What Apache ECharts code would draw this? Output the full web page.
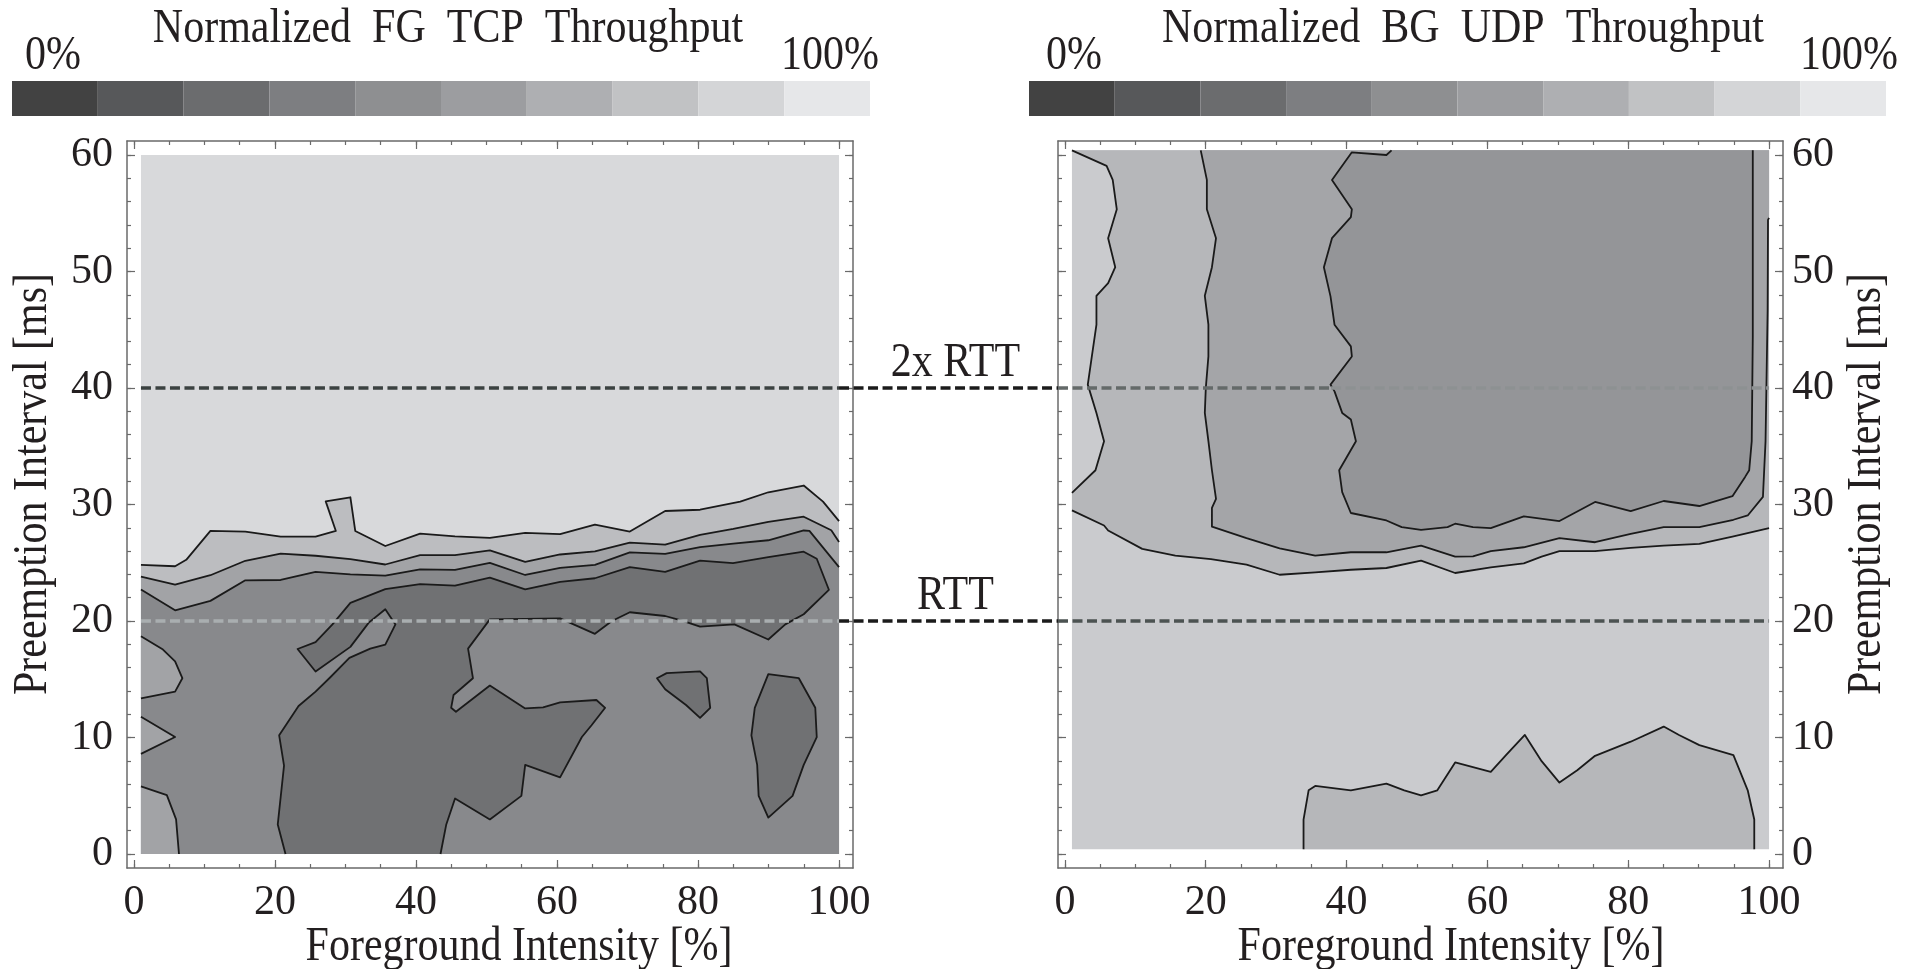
<!DOCTYPE html>
<html>
<head>
<meta charset="utf-8">
<title>Normalized throughput contours</title>
<script src="https://cdn.jsdelivr.net/npm/echarts@6/dist/echarts.min.js"></script>
<style>
html, body { margin: 0; padding: 0; background: #fff; }
#chart { width: 1914px; height: 969px; }
</style>
</head>
<body>
<div id="chart"></div>
<script>
// values: x = foreground intensity [%], y = preemption interval [ms]
const xTicks = [0, 20, 40, 60, 80, 100];
const xMinorTicks = [0, 5, 10, 15, 20, 25, 30, 35, 40, 45, 50, 55, 60, 65, 70, 75, 80, 85, 90, 95, 100];
const yTicks = [0, 10, 20, 30, 40, 50, 60];
const yMinorTicks = [0, 2, 4, 6, 8, 10, 12, 14, 16, 18, 20, 22, 24, 26, 28, 30, 32, 34, 36, 38, 40, 42, 44, 46, 48, 50, 52, 54, 56, 58, 60];
const xAxisRange = [-0.98, 101.98];
const yAxisRange = [-1.2, 61.2];
const rttValues = [40, 20];
const rttNames = ['2x RTT', 'RTT'];
const colorbarEnds = ['0%', '100%'];
const colorbarSteps = [0, 1, 2, 3, 4, 5, 6, 7, 8, 9];

// ---- FG TCP throughput (left) ----
const tcpExtent = { x: [1, 100], y: [0, 60] };
const tcpLine1 = [[1, 24.82], [5.84, 24.70], [7.42, 25.25], [10.85, 27.73], [15.80, 27.68], [20.81, 27.24], [25.76, 27.24], [28.64, 27.73], [27.20, 30.27], [30.70, 30.62], [31.39, 27.73], [35.65, 26.44], [40.59, 27.50], [45.54, 27.27], [50.48, 27.13], [55.49, 27.56], [60.44, 27.45], [65.38, 28.28], [70.33, 27.68], [75.34, 29.44], [80.29, 29.55], [85.99, 30.25], [89.97, 31.05], [94.99, 31.63], [97.73, 30.25], [100, 28.57]];
const tcpLine2 = [[1, 23.81], [5.84, 23.12], [10.85, 23.93], [15.80, 25.17], [20.81, 25.78], [25.76, 25.60], [30.70, 25.31], [35.65, 24.85], [40.59, 25.66], [45.54, 25.66], [50.48, 26.06], [55.49, 25.08], [60.44, 25.71], [65.38, 25.98], [70.33, 26.73], [75.34, 26.55], [80.29, 27.39], [85.0, 27.9], [89.97, 28.51], [94.99, 28.95], [98.9, 27.79], [100, 26.78]];
const tcpLine3 = [[1, 22.71], [5.84, 20.92], [10.85, 21.73], [15.80, 23.49], [20.81, 23.52], [25.76, 24.21], [30.70, 24.01], [35.65, 23.90], [40.59, 24.44], [45.54, 24.39], [50.48, 24.99], [55.49, 23.95], [60.44, 24.56], [65.38, 24.82], [70.33, 25.89], [75.34, 25.77], [80.29, 26.35], [85.0, 26.64], [89.97, 26.93], [94.99, 27.77], [95.8, 27.74], [100, 24.62]];
const tcpLow = [[30.70, 21.56], [35.65, 22.74], [40.59, 23.17], [45.54, 23.03], [50.48, 23.72], [55.49, 22.71], [60.44, 23.35], [65.38, 23.67], [70.33, 24.62], [75.34, 24.21], [80.29, 25.19], [84.96, 24.96], [89.97, 25.48], [94.99, 25.95], [96.84, 25.34], [98.56, 22.68], [94.99, 20.58], [92.38, 19.71], [89.97, 18.41], [85.16, 19.71], [80.29, 19.51], [77.61, 20.06], [75.34, 20.43], [70.33, 20.75], [67.79, 20.00], [65.38, 18.90], [60.44, 20.23], [50.48, 20.14], [47.39, 17.63], [48.08, 15.09], [45.33, 13.65], [44.99, 12.55], [45.67, 12.21], [50.48, 14.46], [55.49, 12.50], [58.03, 12.58], [60.44, 13.02], [65.59, 13.22], [66.83, 12.55], [64.90, 11.05], [63.53, 10.04], [60.44, 6.58], [55.49, 7.65], [54.95, 4.99], [50.48, 2.97], [45.54, 4.76], [44.30, 2.54], [43.48, 0], [21.50, 0], [20.40, 2.54], [21.29, 7.59], [20.60, 10.19], [23.35, 12.70], [25.76, 13.94], [27.82, 15.15], [30.56, 16.83], [33.52, 17.63], [35.65, 17.98], [37.09, 19.71], [35.65, 21.01], [33.31, 19.86], [30.70, 17.78], [25.76, 15.67], [23.21, 17.60], [25.76, 18.18], [28.16, 19.71]];
const tcpIslandA = [[74.18, 15.09], [75.55, 15.53], [80.29, 15.67], [81.25, 15.09], [81.73, 12.55], [80.29, 11.69], [78.30, 12.79], [75.34, 14.14]];
const tcpIslandB = [[89.97, 15.44], [94.30, 15.09], [96.63, 12.55], [96.84, 10.04], [94.99, 7.65], [93.41, 4.99], [89.97, 3.12], [88.60, 4.99], [88.39, 7.65], [87.57, 10.19], [88.05, 12.55]];
const tcpEdgeA = [[1, 18.70], [4.12, 17.55], [5.84, 16.54], [6.87, 15.09], [5.84, 13.94], [1, 13.36]];
const tcpEdgeB = [[1, 11.78], [5.84, 10.04], [1, 8.60]];
const tcpEdgeC = [[1, 5.80], [4.67, 5.05], [5.98, 2.97], [6.39, 0], [1, 0]];

// ---- BG UDP throughput (right) ----
const udpExtent = { x: [1, 100], y: [0.4, 60.4] };
const udpOuterLeft = [[1, 60.4], [5.92, 59.06], [6.79, 57.86], [7.37, 55.34], [6.14, 52.86], [7.15, 50.37], [6.14, 49.0], [4.48, 47.91], [4.48, 45.43], [3.76, 42.43], [3.25, 40.29], [4.48, 37.86], [5.56, 35.43], [4.34, 32.94], [1, 31.0]];
const udpOuterLow = [[1, 29.5], [5.56, 28.20], [6.14, 27.77], [10.98, 26.19], [15.68, 25.61], [20.74, 25.32], [25.79, 24.83], [30.49, 23.97], [35.55, 24.17], [40.61, 24.40], [45.66, 24.55], [50.58, 25.18], [55.42, 24.12], [60.48, 24.60], [65.17, 24.95], [67.70, 25.53], [70.23, 25.99], [75.29, 25.99], [80.35, 26.27], [85.04, 26.47], [90.10, 26.62], [94.80, 27.25], [100, 27.97]];
const udpMidLeft = [[19.29, 60.4], [20.16, 57.86], [20.16, 55.34], [21.46, 52.86], [20.88, 50.37], [19.87, 47.91], [20.38, 45.43], [20.38, 42.71], [20.01, 40.0], [19.87, 37.86], [20.38, 35.43], [20.88, 32.94], [21.46, 30.49], [20.88, 29.71], [20.88, 28.1]];
const udpMidLow = [[25.79, 27.11], [30.49, 26.24], [35.55, 25.61], [40.61, 25.90], [45.66, 25.90], [50.58, 26.47], [55.42, 25.53], [57.95, 25.55], [60.48, 25.99], [65.17, 26.33], [70.23, 27.11], [75.29, 26.76], [80.35, 27.48], [85.04, 28.06], [90.10, 28.06], [94.94, 28.69], [96.97, 29.06], [99.13, 30.65]];
const udpMidRight = [[99.5, 35.43], [99.8, 46.7], [99.85, 54.43], [100, 54.6]];
const udpInner = [[46.39, 60.4], [45.66, 60.0], [40.75, 60.23], [37.93, 57.86], [40.75, 55.34], [40.61, 54.66], [37.93, 52.86], [36.78, 50.37], [37.72, 47.86], [38.29, 45.43], [40.61, 43.57], [40.75, 42.71], [37.72, 40.29], [38.29, 39.71], [39.38, 37.86], [40.61, 37.29], [41.33, 35.43], [38.95, 32.94], [39.38, 31.06], [40.61, 29.27], [45.66, 28.63], [47.83, 28.06], [50.58, 27.83], [54.34, 28.06], [55.42, 28.35], [57.95, 28.06], [60.48, 27.97], [65.17, 28.98], [70.23, 28.58], [75.29, 30.22], [80.35, 29.44], [85.04, 30.30], [90.10, 29.87], [94.80, 30.71], [96.60, 32.37], [97.18, 32.94], [97.54, 35.43], [97.69, 44.43], [97.69, 60.4]];
const udpBump = [[33.89, 0.4], [33.89, 2.96], [34.61, 5.47], [35.55, 5.84], [40.61, 5.47], [45.66, 6.04], [48.19, 5.47], [50.58, 5.04], [52.89, 5.47], [55.42, 7.86], [60.48, 7.05], [62.64, 8.49], [65.32, 10.22], [67.70, 7.97], [70.23, 6.13], [72.76, 7.19], [75.29, 8.43], [80.35, 9.64], [85.04, 10.94], [87.21, 10.22], [90.10, 9.35], [94.94, 8.49], [96.97, 5.47], [97.90, 2.96], [97.90, 0.4]];

const SERIF = 'Liberation Serif';
const TEXT = '#231f20';
const FRAME = '#6a6a6a';
const LINE = '#1a1a1a';
const barColors = ['#424242', '#57585a', '#6b6c6e', '#7d7e81', '#8e8f91', '#9c9da0', '#aeafb2', '#c1c2c4', '#d4d5d7', '#e6e7e9'];

function box(ext) {
  return [[ext.x[0], ext.y[0]], [ext.x[1], ext.y[0]], [ext.x[1], ext.y[1]], [ext.x[0], ext.y[1]]];
}

const tcpRegions = [
  { pts: box(tcpExtent), color: '#d8d9db' },
  { pts: tcpLine1.concat([[100, 0], [1, 0]]), color: '#bcbdc0' },
  { pts: tcpLine2.concat([[100, 0], [1, 0]]), color: '#a2a3a6' },
  { pts: tcpLine3.concat([[100, 0], [1, 0]]), color: '#88898c' },
  { pts: tcpLow, color: '#707173' },
  { pts: tcpIslandA, color: '#707173' },
  { pts: tcpIslandB, color: '#707173' },
  { pts: tcpEdgeA, color: '#a2a3a6' },
  { pts: tcpEdgeB, color: '#a2a3a6' },
  { pts: tcpEdgeC, color: '#a2a3a6' }
];

const udpRegions = [
  { pts: box(udpExtent), color: '#cacbce' },
  { pts: udpOuterLeft.concat(udpOuterLow, [[100, 60.4]]), color: '#b6b7ba' },
  { pts: udpMidLeft.concat(udpMidLow, udpMidRight, [[100, 60.4]]), color: '#a4a5a8' },
  { pts: udpInner, color: '#949598' },
  { pts: udpBump, color: '#b6b7ba' }
];

// segment lying on the border of the filled area -> no contour stroke
function onBorder(a, b, ext) {
  const e = 1e-6;
  return (Math.abs(a[0] - ext.x[0]) < e && Math.abs(b[0] - ext.x[0]) < e) ||
    (Math.abs(a[0] - ext.x[1]) < e && Math.abs(b[0] - ext.x[1]) < e) ||
    (Math.abs(a[1] - ext.y[0]) < e && Math.abs(b[1] - ext.y[0]) < e) ||
    (Math.abs(a[1] - ext.y[1]) < e && Math.abs(b[1] - ext.y[1]) < e);
}

function contourRenderer(regions, ext) {
  return function (params, api) {
    const reg = regions[params.dataIndex];
    const src = reg.pts;
    const px = src.map(p => api.coord(p));
    const n = src.length;
    const children = [{ type: 'polygon', shape: { points: px }, style: { fill: reg.color } }];
    const stroke = { stroke: LINE, lineWidth: 1.8, fill: 'none', lineJoin: 'round' };
    if (params.dataIndex === 0) return { type: 'group', children };
    let start = -1;
    for (let i = 0; i < n; i++) {
      if (onBorder(src[i], src[(i + 1) % n], ext)) { start = i; break; }
    }
    if (start < 0) {
      children.push({ type: 'polygon', shape: { points: px }, style: stroke });
    } else {
      let run = [];
      for (let k = 1; k <= n; k++) {
        const i = (start + k) % n, j = (i + 1) % n;
        if (onBorder(src[i], src[j], ext)) {
          if (run.length > 1) children.push({ type: 'polyline', shape: { points: run }, style: stroke });
          run = [];
        } else {
          if (!run.length) run.push(px[i]);
          run.push(px[j]);
        }
      }
      if (run.length > 1) children.push({ type: 'polyline', shape: { points: run }, style: stroke });
    }
    return { type: 'group', children };
  };
}

function xAxisDef(grid, pos, major) {
  return {
    gridIndex: grid, type: 'value', position: pos,
    min: xAxisRange[0], max: xAxisRange[1],
    splitLine: { show: false },
    axisLine: { show: major, onZero: false, lineStyle: { color: FRAME, width: 1.5 } },
    axisTick: { show: true, inside: true, length: major ? 8 : 4, customValues: major ? xTicks : xMinorTicks, lineStyle: { color: FRAME, width: 1.2 } },
    axisLabel: { show: major && pos === 'bottom', customValues: xTicks, margin: 14, color: TEXT, fontFamily: SERIF, fontSize: 42 }
  };
}

function yAxisDef(grid, pos, major, labels) {
  return {
    gridIndex: grid, type: 'value', position: pos,
    min: yAxisRange[0], max: yAxisRange[1],
    splitLine: { show: false },
    axisLine: { show: major, onZero: false, lineStyle: { color: FRAME, width: 1.5 } },
    axisTick: { show: true, inside: true, length: major ? 8 : 4, customValues: major ? yTicks : yMinorTicks, lineStyle: { color: FRAME, width: 1.2 } },
    axisLabel: { show: major && labels, customValues: yTicks, margin: pos === 'left' ? 14 : 9, color: TEXT, fontFamily: SERIF, fontSize: 42 }
  };
}

function barRenderer(params, api) {
  const i = api.value(0);
  const a = api.coord([i, 1]);
  const b = api.coord([i + 1, 0]);
  return { type: 'rect', shape: { x: a[0], y: a[1], width: b[0] - a[0], height: b[1] - a[1] }, style: { fill: barColors[i] } };
}

const xAxes = [];
const yAxes = [];
[0, 1].forEach(g => {
  xAxes.push(xAxisDef(g, 'bottom', true), xAxisDef(g, 'bottom', false), xAxisDef(g, 'top', true), xAxisDef(g, 'top', false));
  yAxes.push(yAxisDef(g, 'left', true, g === 0), yAxisDef(g, 'left', false, false),
    yAxisDef(g, 'right', true, g === 1), yAxisDef(g, 'right', false, false));
});
[2, 3].forEach(g => {
  xAxes.push({ gridIndex: g, type: 'value', min: 0, max: 10, show: false });
  yAxes.push({ gridIndex: g, type: 'value', min: 0, max: 1, show: false });
});

const chart = echarts.init(document.getElementById('chart'));
chart.setOption({
  animation: false,
  backgroundColor: '#fff',
  grid: [
    { left: 127, top: 141, width: 726, height: 727, outerBoundsMode: 'none' },
    { left: 1058, top: 141, width: 725, height: 727, outerBoundsMode: 'none' },
    { left: 12, top: 81, width: 858, height: 35, outerBoundsMode: 'none' },
    { left: 1029, top: 81, width: 857, height: 35, outerBoundsMode: 'none' }
  ],
  xAxis: xAxes,
  yAxis: yAxes,
  series: [
    { type: 'custom', xAxisIndex: 0, yAxisIndex: 0, renderItem: contourRenderer(tcpRegions, tcpExtent), data: tcpRegions.map((r, i) => [i]), silent: true },
    { type: 'custom', xAxisIndex: 4, yAxisIndex: 4, renderItem: contourRenderer(udpRegions, udpExtent), data: udpRegions.map((r, i) => [i]), silent: true },
    { type: 'custom', xAxisIndex: 8, yAxisIndex: 8, renderItem: barRenderer, data: colorbarSteps.map(s => [s]), silent: true },
    { type: 'custom', xAxisIndex: 9, yAxisIndex: 9, renderItem: barRenderer, data: colorbarSteps.map(s => [s]), silent: true }
  ]
});

// reference lines and texts, placed through the plot scales
const toPx = (g, x, y) => chart.convertToPixel({ xAxisIndex: g * 4, yAxisIndex: g * 4 }, [x, y]);
const txt = (text, x, y, rot) => ({
  type: 'text', x: x, y: y, rotation: rot || 0, scaleY: 1.15, silent: true,
  style: { text: text, fontFamily: SERIF, fontSize: 42, fill: TEXT, align: 'center', verticalAlign: 'middle' }
});
const dash = (p, q, color) => ({
  type: 'line', silent: true, z: 10,
  shape: { x1: p[0], y1: p[1], x2: q[0], y2: q[1] },
  style: { stroke: color, lineWidth: 3.5, lineDash: [10, 4.5] }
});

const graphics = [];
rttValues.forEach((v, k) => {
  const a = toPx(0, 1, v), b = toPx(0, 100, v);
  const c = toPx(1, xAxisRange[0], v), d = toPx(1, 100, v);
  graphics.push(dash(a, b, v === 40 ? '#3b4241' : '#a9aeb0'));
  graphics.push(dash(b, c, '#1b1b1b'));
  if (v === 40) {
    const m = toPx(1, 37.8, v);
    graphics.push(dash(c, m, '#646a69'), dash(m, d, '#8d9192'));
  } else {
    graphics.push(dash(c, d, '#4c5352'));
  }
  const lf = toPx(0, xAxisRange[1], v);
  graphics.push(txt(rttNames[k], (lf[0] + c[0]) / 2, a[1] - 25));
});

graphics.push(
  txt('Normalized  FG  TCP  Throughput', 448, 29),
  txt('Normalized  BG  UDP  Throughput', 1463, 29),
  txt(colorbarEnds[0], 53, 56), txt(colorbarEnds[1], 830, 56),
  txt(colorbarEnds[0], 1074, 56), txt(colorbarEnds[1], 1849, 56),
  txt('Foreground Intensity [%]', 519, 947),
  txt('Foreground Intensity [%]', 1451, 947),
  txt('Preemption Interval [ms]', 33, 484, Math.PI / 2),
  txt('Preemption Interval [ms]', 1867, 484, Math.PI / 2)
);

chart.setOption({ graphic: graphics });
</script>
</body>
</html>
